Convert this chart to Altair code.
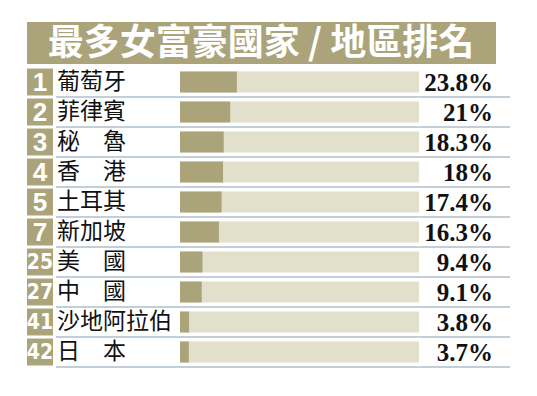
import altair as alt
import pandas as pd

title_text = "最多女富豪國家 / 地區排名"
ranks = ["1", "2", "3", "4", "5", "7", "25", "27", "41", "42"]
names = ["葡萄牙", "菲律賓", "秘　魯", "香　港", "土耳其", "新加坡", "美　國", "中　國", "沙地阿拉伯", "日　本"]
values = [23.8, 21, 18.3, 18, 17.4, 16.3, 9.4, 9.1, 3.8, 3.7]
labels = ["23.8%", "21%", "18.3%", "18%", "17.4%", "16.3%", "9.4%", "9.1%", "3.8%", "3.7%"]

df = pd.DataFrame({
    "rank": ranks,
    "name": names,
    "value": values,
    "label": labels,
    "full": [100] * len(ranks),
    "digits": [len(r) for r in ranks],
})

OLIVE = "#aba47b"
TRACK = "#e2dfcb"
LINE = "#c3cfd8"

yscale = alt.Scale(domain=ranks, range=[59, 359])
yenc = alt.Y("rank:N", sort=ranks, scale=yscale, axis=None)
xscale = alt.Scale(domain=[0, 100], range=[172, 411])

base = alt.Chart(df)

title_df = pd.DataFrame({"t": [title_text]})
title_bg = alt.Chart(title_df).mark_rect(color=OLIVE).encode(
    x=alt.value(19), x2=alt.value(488), y=alt.value(14), y2=alt.value(56)
)
title = alt.Chart(title_df).mark_text(
    font="Noto Sans CJK TC", fontSize=36, fontWeight="bold", color="white",
    align="center", baseline="middle"
).encode(x=alt.value(253), y=alt.value(36), text="t:N")

sep = base.mark_rule(color=LINE, strokeWidth=2).encode(
    y=alt.Y("rank:N", sort=ranks, scale=yscale, axis=None, bandPosition=1),
    x=alt.value(48), x2=alt.value(502)
)

rank_box = base.mark_bar(color=OLIVE, size=27).encode(
    y=yenc, x=alt.value(19), x2=alt.value(45)
)
rank_text1 = base.transform_filter("datum.digits == 1").mark_text(
    font="Liberation Sans", fontSize=26, fontWeight="bold",
    color="white", align="center", baseline="middle", dy=1
).encode(y=yenc, x=alt.value(32), text="rank:N")
rank_text2 = base.transform_filter("datum.digits == 2").mark_text(
    font="DejaVu Sans Condensed", fontSize=21, fontWeight="bold",
    color="white", align="center", baseline="middle", dy=1
).encode(y=yenc, x=alt.value(32), text="rank:N")

name_text = base.mark_text(
    font="Noto Sans CJK TC", fontSize=23, color="#111111", align="left", baseline="middle"
).encode(y=yenc, x=alt.value(49), text="name:N")

track = base.mark_bar(color=TRACK, size=21).encode(
    y=yenc, x=alt.X("full:Q", scale=xscale, axis=None)
)
fill = base.mark_bar(color=OLIVE, size=21).encode(
    y=yenc, x=alt.X("value:Q", scale=xscale, axis=None)
)

val_text = base.mark_text(
    font="Liberation Serif", fontSize=25, fontWeight="bold", color="#111111",
    align="right", baseline="middle", dy=1
).encode(y=yenc, x=alt.value(485), text="label:N")

chart = alt.layer(
    title_bg, title, sep, rank_box, rank_text1, rank_text2, name_text, track, fill, val_text
).properties(
    width=521, height=380, autosize="none", padding=0, background="white"
).configure_view(stroke=None)

chart.save("out.html", embed_options={"renderer": "svg", "actions": False})
